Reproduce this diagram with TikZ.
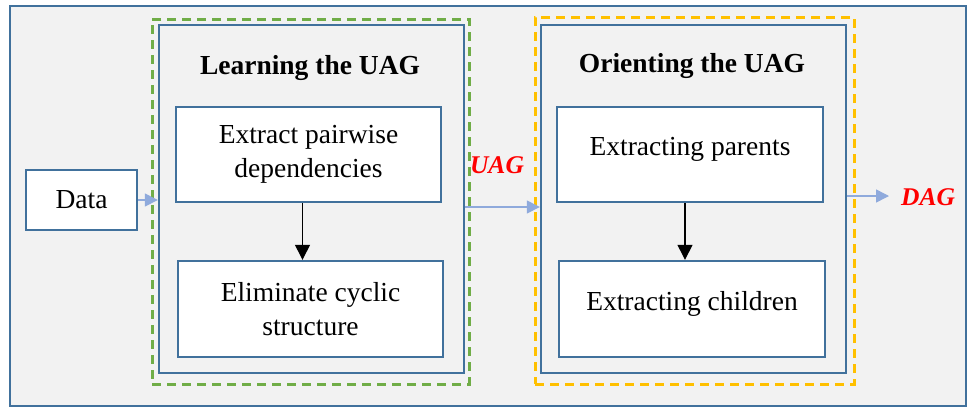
\documentclass[tikz,border=0pt]{standalone}
\usepackage{fontspec}
\setmainfont{Liberation Serif}
\usetikzlibrary{arrows.meta}

\definecolor{frameblue}{RGB}{65,113,156}
\definecolor{panelgray}{RGB}{242,242,242}
\definecolor{groupgreen}{RGB}{112,173,71}
\definecolor{grouporange}{RGB}{255,192,0}
\definecolor{flowblue}{RGB}{143,170,220}
\definecolor{outred}{RGB}{255,0,0}

\tikzset{
  boxbase/.style={draw=frameblue, line width=2.4pt, inner sep=0pt, rectangle},
  stagebox/.style={boxbase, fill=panelgray, minimum width=305pt, minimum height=348pt},
  stepbox/.style={boxbase, fill=white, minimum width=265pt, minimum height=95pt,
    align=center, font=\fontsize{27.5}{34}\selectfont},
  groupbox/.style={line width=3pt, dash pattern=on 9pt off 6pt, inner sep=0pt, rectangle},
  stagetitle/.style={font=\fontsize{27.5}{33}\selectfont\bfseries},
  outlabel/.style={text=outred, font=\fontsize{25.5}{30}\selectfont\bfseries\itshape, inner sep=0pt},
  flow/.style={draw=flowblue, line width=1.5pt, -{Triangle[length=13pt,width=13pt]}},
  seq/.style={draw=black, line width=1.3pt, -{Triangle[length=15pt,width=15pt]}}
}

\begin{document}
\begin{tikzpicture}[x=1pt, y=-1pt]
  \useasboundingbox (0,0) rectangle (968,408);

  % overall frame
  \draw[draw=frameblue, line width=2.4pt, fill=panelgray] (10,6) rectangle (966,406);

  % dashed groups
  \node[groupbox, draw=groupgreen, minimum width=317pt, minimum height=365pt] (learngroup) at (310.5,201.5) {};
  \node[groupbox, draw=grouporange, minimum width=319pt, minimum height=367pt] (orientgroup) at (694.5,200.5) {};

  % stage panels
  \node[stagebox] (learning) at (311.5,199) {};
  \node[stagebox] (orienting) at (693.5,199) {};

  \node[stagetitle] (learntitle) at (310,68) {Learning the UAG};
  \node[stagetitle] (orienttitle) at (692,66) {Orienting the UAG};

  % input
  \node[boxbase, fill=white, minimum width=111pt, minimum height=60pt,
        font=\fontsize{27.5}{34}\selectfont] (data) at (81.5,200) {Data};

  % steps of the first stage
  \node[stepbox] (extract) at (308.5,154.5) {Extract pairwise\\dependencies};
  \node[stepbox, minimum height=96pt] (eliminate) at (310.5,309) {Eliminate cyclic\\structure};

  % steps of the second stage
  \node[stepbox, minimum width=266pt] (parents) at (690,154.5) {\raisebox{16pt}{Extracting parents}};
  \node[stepbox, minimum width=266pt, minimum height=96pt] (children) at (692,309) {\raisebox{17pt}{Extracting children}};

  % outputs
  \node[outlabel] (uag) at (497,165) {UAG};
  \node[outlabel, anchor=west] (dag) at (901,197) {DAG};

  % connectors
  \draw[flow] (data.east) -- (learning.west |- data.east);
  \draw[flow] ([yshift=-8pt]learning.east) -- ([yshift=-8pt]orienting.west);
  \draw[flow] ([yshift=3pt]orienting.east) -- ([xshift=-12pt]dag.west |- 0,196);

  \draw[seq] ([xshift=-6pt]extract.south) -- ([xshift=-6pt]extract.south |- eliminate.north);
  \draw[seq] ([xshift=-5pt]parents.south) -- ([xshift=-5pt]parents.south |- children.north);
\end{tikzpicture}
\end{document}
